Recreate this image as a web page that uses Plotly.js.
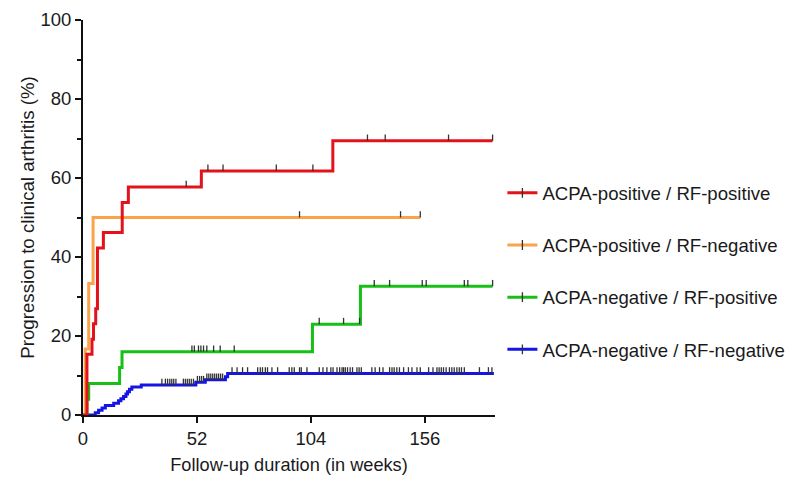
<!DOCTYPE html>
<html>
<head>
<meta charset="utf-8">
<script src="https://cdn.plot.ly/plotly-3.0.1.min.js"></script>
<style>
  html, body { margin: 0; padding: 0; background: #ffffff; }
  #chart { width: 800px; height: 494px; }
</style>
</head>
<body>
<div id="chart"></div>
<script>
// ---- Data (weeks, cumulative % progression) ----
const groupNames = [
  "ACPA-positive / RF-positive",
  "ACPA-positive / RF-negative",
  "ACPA-negative / RF-positive",
  "ACPA-negative / RF-negative"
];

const redTimes = [0, 1.8, 4.1, 4.8, 5.8, 6.6, 9.3, 17.9, 20.7, 54.0, 114.0];
const redPct   = [0, 15.4, 19.2, 23.1, 26.9, 42.3, 46.2, 53.8, 57.7, 61.8, 69.4];
const redCens  = [47.1, 57.0, 63.9, 88.2, 104.9, 129.8, 137.9, 166.8, 186.9];
const redEnd   = 186.9;

const orangeTimes = [0, 1.0, 2.6, 4.6];
const orangePct   = [0, 16.7, 33.3, 50.0];
const orangeCens  = [98.8, 144.9, 153.9];
const orangeEnd   = 153.9;

const greenTimes = [0, 1.8, 2.6, 16.7, 17.8, 104.7, 126.6];
const greenPct   = [0, 4.0, 8.0, 12.0, 16.0, 23.0, 32.6];
const greenCens  = [49.7, 50.8, 52.7, 53.8, 55.0, 56.5, 59.6, 62.6, 69.0,
                    107.8, 118.9, 126.2, 132.9, 139.9, 154.8, 156.6, 174.0, 175.6, 186.9];
const greenEnd   = 186.9;

const blueTimes = [0, 5.6, 7.1, 8.7, 10.2, 14.0, 16.2, 17.3, 18.5, 19.6, 20.3, 21.2, 22.3, 26.6, 51.5, 55.8, 65.0, 66.0];
const bluePct   = [0, 0.6, 1.2, 1.8, 2.4, 3.0, 3.6, 4.1, 4.7, 5.3, 5.9, 6.5, 7.1, 7.6, 8.3, 8.9, 9.7, 10.5];
const blueCens  = [36.0, 37.6, 38.6, 39.6, 40.5, 41.4, 42.4, 45.8, 46.7, 47.6, 48.5, 49.4, 50.4,
                   52.2, 53.2, 54.1, 55.0,
                   56.5, 57.4, 58.3, 59.2, 60.1, 61.0, 61.9, 62.8, 63.7,
                   68.0, 70.3, 72.8, 75.1, 79.7, 80.9, 81.9, 83.2, 84.2, 86.2, 88.8,
                   94.1, 95.3, 96.4, 98.8, 99.6, 102.2,
                   107.8, 109.5, 111.3, 113.1, 114.1, 115.9, 117.1, 118.2, 118.9, 119.7, 120.7, 121.9, 123.0, 125.0, 126.0, 127.0,
                   131.8, 133.3, 135.3, 136.9, 139.9, 141.0, 142.0, 143.2, 144.4, 146.3, 148.5, 150.1, 152.4, 153.9,
                   157.7, 159.7, 161.5, 162.5, 163.5, 164.5, 165.7, 167.2, 168.3, 169.4, 170.6, 171.7, 172.7, 174.0,
                   180.9, 185.0, 186.6];
const blueEnd   = 187.5;

const xTicks = [0, 52, 104, 156];
const yTicks = [0, 20, 40, 60, 80, 100];

// ---- Styles ----
const colors = ["#e3121b", "#f9a44a", "#17bf17", "#1414e6"];
const FONT = "Liberation Sans, Arial, Helvetica, sans-serif";
const TICK_H = 1.6;   // censor tick height (style)

const groups = [
  {t: redTimes, p: redPct, c: redCens, end: redEnd},
  {t: orangeTimes, p: orangePct, c: orangeCens, end: orangeEnd},
  {t: greenTimes, p: greenPct, c: greenCens, end: greenEnd},
  {t: blueTimes, p: bluePct, c: blueCens, end: blueEnd}
];

function levelAt(times, pct, x) {
  let v = 0;
  for (let i = 0; i < times.length; i++) { if (times[i] <= x) v = pct[i]; }
  return v;
}

const traces = [];
[3, 2, 1, 0].forEach(function (g) {
  const G = groups[g];
  traces.push({
    type: "scatter", mode: "lines",
    x: G.t.concat([G.end]), y: G.p.concat([G.p[G.p.length - 1]]),
    line: {shape: "hv", color: colors[g], width: 3},
    showlegend: false, hoverinfo: "skip"
  });
  traces.push({
    type: "scatter", mode: "markers",
    x: G.c, y: G.c.map(function (x) { return levelAt(G.t, G.p, x); }),
    marker: {size: 0, color: "rgba(0,0,0,0)"},
    error_y: {type: "data", symmetric: false,
              array: G.c.map(function () { return TICK_H; }),
              arrayminus: G.c.map(function () { return 0; }),
              width: 0, thickness: 1.3, color: "#333333"},
    showlegend: false, hoverinfo: "skip"
  });
});
// legend-only entries
[0, 1, 2, 3].forEach(function (g) {
  traces.push({
    type: "scatter", mode: "lines+markers",
    x: [null], y: [null], name: groupNames[g],
    legendgroup: "g" + g,
    line: {color: colors[g], width: 3},
    marker: {symbol: "line-ns", size: 7, color: "#333333", line: {color: "#333333", width: 1.3}}
  });
});

const layout = {
  width: 800, height: 494,
  paper_bgcolor: "#ffffff", plot_bgcolor: "#ffffff",
  margin: {l: 83, r: 305, t: 20, b: 79},
  font: {family: FONT, size: 18.5, color: "#1a1a1a"},
  showlegend: true,
  legend: {
    xref: "container", yref: "container",
    x: 0.628, xanchor: "left", y: 0.451, yanchor: "middle",
    font: {family: FONT, size: 18.6, color: "#1a1a1a"},
    traceorder: "grouped", tracegroupgap: 25,
    bgcolor: "rgba(0,0,0,0)"
  },
  xaxis: {
    range: [0, 188], tickmode: "array", tickvals: xTicks, ticktext: xTicks.map(String),
    showline: true, linecolor: "#111", linewidth: 2,
    ticks: "outside", ticklen: 6, tickwidth: 2, tickcolor: "#111",
    showgrid: false, zeroline: false,
    tickfont: {family: FONT, size: 18.5, color: "#1a1a1a"},
    title: {text: "Follow-up duration (in weeks)", font: {family: FONT, size: 18.2, color: "#1a1a1a"}, standoff: 10}
  },
  yaxis: {
    range: [0, 100], tickmode: "array", tickvals: yTicks, ticktext: yTicks.map(String),
    showline: true, linecolor: "#111", linewidth: 2,
    ticks: "outside", ticklen: 6, tickwidth: 2, tickcolor: "#111",
    minor: {dtick: 10, ticks: "outside", ticklen: 4, tickwidth: 2, tickcolor: "#111", showgrid: false},
    showgrid: false, zeroline: false,
    tickfont: {family: FONT, size: 18.5, color: "#1a1a1a"},
    title: {text: "Progression to clinical arthritis (%)", font: {family: FONT, size: 18.7, color: "#1a1a1a"}, standoff: 1}
  }
};

Plotly.newPlot("chart", traces, layout, {displayModeBar: false, staticPlot: true});
</script>
</body>
</html>
